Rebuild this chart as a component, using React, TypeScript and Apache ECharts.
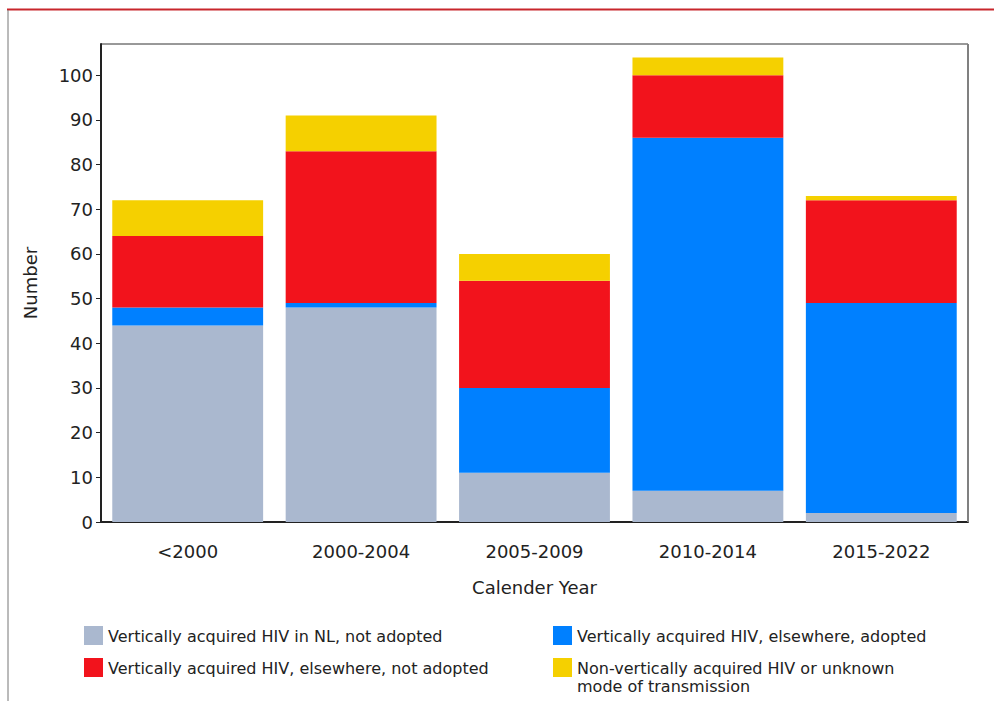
import React, { useEffect, useRef } from "react";
import * as echarts from "echarts";

const categories = ["<2000", "2000-2004", "2005-2009", "2010-2014", "2015-2022"];
const seriesNames = [
  "Vertically acquired HIV in NL, not adopted",
  "Vertically acquired HIV, elsewhere, adopted",
  "Vertically acquired HIV, elsewhere, not adopted",
  "Non-vertically acquired HIV or unknown\nmode of transmission",
];
const inNLNotAdopted = [44, 48, 11, 7, 2];
const elsewhereAdopted = [4, 1, 19, 79, 47];
const elsewhereNotAdopted = [16, 34, 24, 14, 23];
const nonVertical = [8, 8, 6, 4, 1];
const yTicks = [0, 10, 20, 30, 40, 50, 60, 70, 80, 90, 100];
const colors = ["#AAB8CF", "#0080FF", "#F2131C", "#F5D000"];

const FONT = "DejaVu Sans";

export default function App() {
  const ref = useRef<HTMLDivElement>(null);
  useEffect(() => {
    if (!ref.current) return;
    const chart = echarts.init(ref.current, null, { renderer: "svg" });
    const values = [inNLNotAdopted, elsewhereAdopted, elsewhereNotAdopted, nonVertical];
    const legendPos = [
      { x: 84, y: 626 },
      { x: 553, y: 626 },
      { x: 84, y: 658 },
      { x: 553, y: 658 },
    ];
    const legendGraphics: any[] = [];
    seriesNames.forEach((n, i) => {
      legendGraphics.push({
        type: "rect",
        shape: { x: legendPos[i].x, y: legendPos[i].y, width: 19, height: 19 },
        style: { fill: colors[i] },
      });
      legendGraphics.push({
        type: "text",
        x: legendPos[i].x + 24,
        y: legendPos[i].y + 1,
        style: {
          text: n,
          font: `16px "${FONT}"`,
          fill: "#222",
          lineHeight: 18,
          verticalAlign: "top",
          align: "left",
        },
      });
    });
    chart.setOption({
      animation: false,
      backgroundColor: "#ffffff",
      textStyle: { fontFamily: FONT },
      grid: {
        left: 101,
        top: 44,
        right: 26,
        bottom: 179,
        show: true,
        borderColor: "#333",
        borderWidth: 1,
      },
      graphic: [
        {
          type: "line",
          shape: { x1: 7, y1: 9.5, x2: 994, y2: 9.5 },
          style: { stroke: "#C8262C", lineWidth: 2 },
        },
        {
          type: "line",
          shape: { x1: 8, y1: 10, x2: 8, y2: 701 },
          style: { stroke: "#777", lineWidth: 1 },
        },
        {
          type: "line",
          shape: { x1: 968, y1: 44, x2: 968, y2: 522 },
          style: { stroke: "#808080", lineWidth: 2 },
          z: 100,
        },
        ...legendGraphics,
      ],
      xAxis: {
        type: "category",
        data: categories,
        name: "Calender Year",
        nameLocation: "middle",
        nameGap: 56,
        nameTextStyle: { fontFamily: FONT, fontSize: 18, color: "#222" },
        axisLine: { lineStyle: { color: "#222", width: 2 } },
        axisTick: { alignWithLabel: true, length: 6, lineStyle: { color: "#222" } },
        axisLabel: { fontFamily: FONT, fontSize: 18, color: "#222", margin: 20 },
      },
      yAxis: {
        type: "value",
        min: 0,
        max: 107,
        interval: 10,
        name: "Number",
        nameLocation: "middle",
        nameGap: 62,
        nameTextStyle: { fontFamily: FONT, fontSize: 18, color: "#222" },
        axisLine: { show: true, lineStyle: { color: "#222", width: 2 } },
        axisTick: { show: true, length: 5, lineStyle: { color: "#222" }, customValues: yTicks },
        axisLabel: { fontFamily: FONT, fontSize: 18, color: "#222", margin: 8, customValues: yTicks },
        splitLine: { show: false },
      },
      series: seriesNames.map((n, i) => ({
        name: n,
        type: "bar",
        stack: "total",
        data: values[i],
        barCategoryGap: "13%",
        itemStyle: { color: colors[i] },
      })),
    });
    return () => chart.dispose();
  }, []);
  return (
    <div
      ref={ref}
      style={{ position: "absolute", left: 0, top: 0, width: 994, height: 701 }}
    />
  );
}
